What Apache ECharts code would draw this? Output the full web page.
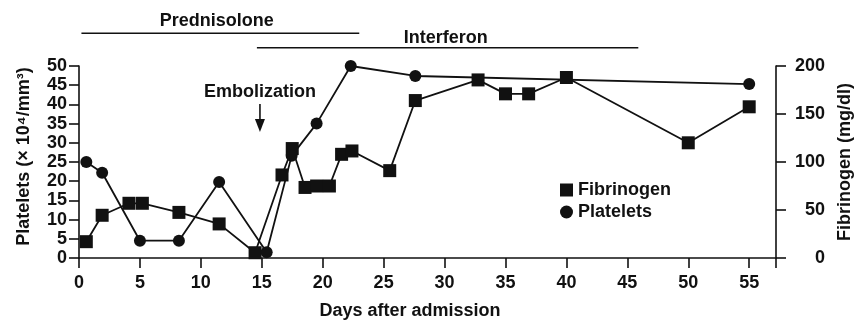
<!DOCTYPE html>
<html><head><meta charset="utf-8">
<script src="https://cdn.jsdelivr.net/npm/echarts@6/dist/echarts.min.js"></script>
<style>html,body{margin:0;padding:0;background:#fff}#c{width:857px;height:321px}</style>
</head><body><div id="c"></div>
<script>
// ---- data ----
const fibDays   = [0.6, 1.9, 4.1, 5.2, 8.2, 11.5, 14.45, 16.66, 17.5, 18.55, 19.5, 20.55, 21.55, 22.4, 25.5, 27.6, 32.75, 35, 36.9, 40, 50, 55];
const fibValues = [17, 44.5, 57, 57, 47.5, 35.5, 5.5, 86.5, 114, 73.5, 75, 75, 108, 111.5, 91, 164, 185.5, 171, 171, 188, 120, 157.5];
const pltDays   = [0.6, 1.9, 5, 8.2, 11.5, 15.4, 17.45, 19.5, 22.3, 27.6, 55];
const pltValues = [25, 22.2, 4.5, 4.5, 19.8, 1.5, 26.6, 35, 50, 47.4, 45.3];
const xTicks = [0, 5, 10, 15, 20, 25, 30, 35, 40, 45, 50, 55];
const leftTicks = [0, 5, 10, 15, 20, 25, 30, 35, 40, 45, 50];
const rightTicks = [0, 50, 100, 150, 200];
const treatmentNames = ['Prednisolone', 'Interferon'];
const treatmentStart = [0.2, 14.6];
const treatmentEnd   = [23, 45.9];
const treatmentLabelDay = [11.3, 30.1];
const eventName = 'Embolization';
const eventDay = 14.85;
const seriesNames = ['Fibrinogen', 'Platelets'];

// ---- chart ----
const FONT = '"Liberation Sans", Arial, sans-serif';
const INK = '#111';
const txt = {fontFamily: FONT, fontWeight: 'bold', fontSize: 18, color: INK};
const chart = echarts.init(document.getElementById('c'));
const axisLine = {show: true, onZero: false, lineStyle: {color: INK, width: 1.6}};
const axisTick = {show: true, length: 10, lineStyle: {color: INK, width: 1.6}};

chart.setOption({
  animation: false,
  backgroundColor: '#fff',
  grid: {left: 79, right: 81, top: 66, bottom: 63, containLabel: false, outerBoundsMode: 'none'},
  xAxis: {
    type: 'value', min: 0, max: 57.2, interval: 5,
    axisLine, axisTick,
    axisLabel: Object.assign({}, txt, {margin: 16, showMaxLabel: true,
      formatter: v => xTicks.indexOf(Math.round(v * 100) / 100) >= 0 ? String(v) : ''}),
    splitLine: {show: false},
    name: 'Days after admission', nameLocation: 'middle', nameGap: 44,
    nameTextStyle: Object.assign({}, txt, {padding: [0, 35, 0, 0]})
  },
  yAxis: [{
    type: 'value', position: 'left', min: leftTicks[0], max: leftTicks[leftTicks.length - 1], interval: 5,
    axisLine, axisTick,
    axisLabel: Object.assign({}, txt, {margin: 12}),
    splitLine: {show: false},
    name: 'Platelets (× 10⁴/mm³)', nameLocation: 'middle', nameRotate: 90, nameGap: 46,
    nameTextStyle: Object.assign({}, txt, {padding: [0, 0, 0, 11]})
  }, {
    type: 'value', position: 'right', min: rightTicks[0], max: rightTicks[rightTicks.length - 1], interval: 50,
    axisLine, axisTick,
    axisLabel: Object.assign({}, txt, {margin: 49, align: 'right'}),
    splitLine: {show: false},
    name: 'Fibrinogen (mg/dl)', nameLocation: 'middle', nameRotate: 90, nameGap: 58,
    nameTextStyle: Object.assign({}, txt)
  }],
  legend: {
    orient: 'vertical', left: 555, top: 176, itemWidth: 13, itemHeight: 13, itemGap: 4,
    textStyle: Object.assign({}, txt),
    data: [{name: seriesNames[0], icon: 'rect'}, {name: seriesNames[1], icon: 'circle'}]
  },
  series: [{
    name: seriesNames[0], type: 'line', yAxisIndex: 1, clip: false,
    data: fibDays.map((d, i) => [d, fibValues[i]]),
    symbol: 'rect', symbolSize: 13,
    lineStyle: {color: INK, width: 1.8}, itemStyle: {color: INK}
  }, {
    name: seriesNames[1], type: 'line', yAxisIndex: 0, clip: false,
    data: pltDays.map((d, i) => [d, pltValues[i]]),
    symbol: 'circle', symbolSize: 12,
    lineStyle: {color: INK, width: 1.8}, itemStyle: {color: INK}
  }]
});

// ---- annotations (x from the axis scale, y are layout positions) ----
const xp = d => chart.convertToPixel({xAxisIndex: 0}, d);
const lineY = [33.3, 47.7];
const labelY = [21, 38.5];
const g = [];
treatmentNames.forEach((n, i) => {
  g.push({type: 'line', shape: {x1: xp(treatmentStart[i]), y1: lineY[i], x2: xp(treatmentEnd[i]), y2: lineY[i]},
          style: {stroke: INK, lineWidth: 1.6}, silent: true});
  g.push({type: 'text', x: xp(treatmentLabelDay[i]), y: labelY[i],
          style: {text: n, font: 'bold 18px ' + FONT, fill: INK, align: 'center', verticalAlign: 'middle'}, silent: true});
});
const ex = xp(eventDay);
g.push({type: 'text', x: ex, y: 92, style: {text: eventName, font: 'bold 18px ' + FONT, fill: INK, align: 'center', verticalAlign: 'middle'}});
g.push({type: 'line', shape: {x1: ex, y1: 104, x2: ex, y2: 124}, style: {stroke: INK, lineWidth: 1.6}});
g.push({type: 'polygon', shape: {points: [[ex - 5, 119], [ex + 5, 119], [ex, 132]]}, style: {fill: INK}});
chart.setOption({graphic: g});
</script>
</body></html>
